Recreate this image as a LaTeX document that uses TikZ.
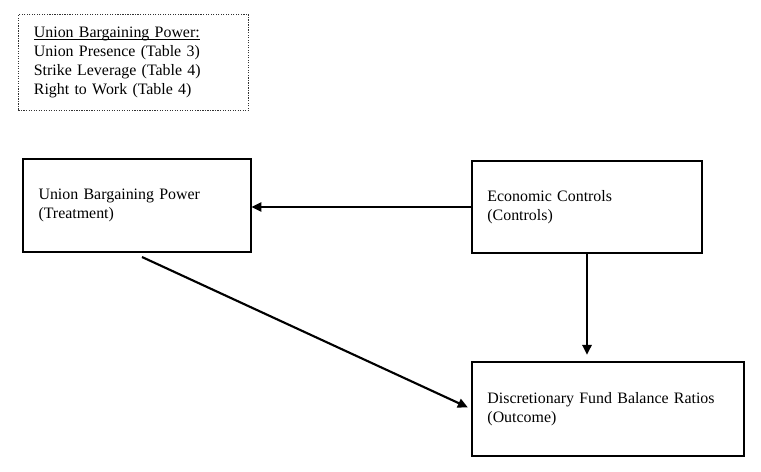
\documentclass[tikz,border=0pt]{standalone}
\usepackage{fontspec}
\setmainfont{Liberation Serif}
\usepackage{tikz}
\usetikzlibrary{arrows.meta, positioning, calc}

\tikzset{
  varbox/.style={draw, line width=0.9pt, rectangle, align=left, anchor=center,
    font=\fontsize{12}{14.2}\selectfont, inner xsep=0.41cm, inner ysep=0pt},
  notebox/.style={varbox, densely dotted, line width=0.7pt, draw=black!80},
  causal/.style={-{Triangle[length=7.5pt, width=7pt]}, line width=1.6pt}
}

\begin{document}
\begin{tikzpicture}[x=0.0265cm, y=-0.0265cm]
  \useasboundingbox (0,0) rectangle (761,472);

  % Measures box
  \node[notebox, text width=5.28cm, minimum height=2.54cm] (measures) at (133.5,62.5)
    {\vphantom{U}\underline{\smash{Union Bargaining Power:}}\\Union Presence (Table 3)\\Strike Leverage (Table 4)\\Right to Work (Table 4)};

  % Model boxes
  \node[varbox, text width=5.22cm, minimum height=2.46cm] (treat) at (137,205.5)
    {Union Bargaining Power\\(Treatment)};
  \node[varbox, text width=5.28cm, minimum height=2.44cm] (ctrl) at (587,207)
    {Economic Controls\\(Controls)};
  \node[varbox, text width=6.39cm, minimum height=2.49cm] (out) at (608,409)
    {Discretionary Fund Balance Ratios\\(Outcome)};

  % Arrows
  \draw[causal] (ctrl.west) -- (ctrl.west -| treat.east);
  \draw[causal, shorten >=5pt] (ctrl.south) -- (ctrl.south |- out.north);
  \coordinate (diagstart) at (142,257);
  \draw[causal, shorten >=3pt] (diagstart) -- (out.west);
\end{tikzpicture}
\end{document}
